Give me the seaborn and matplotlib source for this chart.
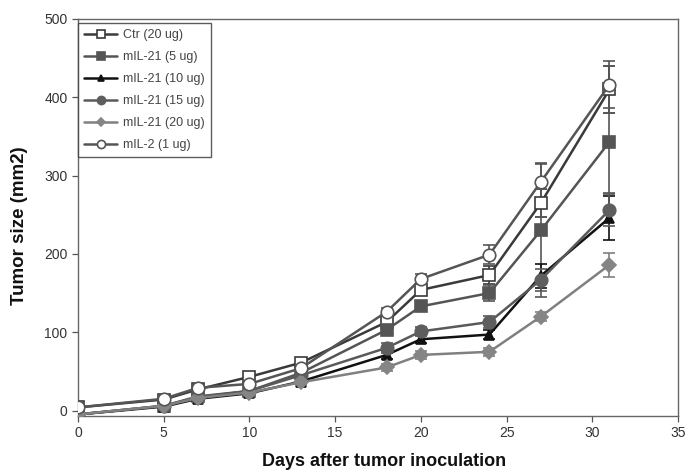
import matplotlib
matplotlib.use("Agg")
import matplotlib.pyplot as plt
import seaborn as sns
import pandas as pd
import numpy as np

days = [0, 5, 7, 10, 13, 18, 20, 24, 27, 31]
series_names = ["Ctr (20 ug)", "mIL-21 (5 ug)", "mIL-21 (10 ug)",
                "mIL-21 (15 ug)", "mIL-21 (20 ug)", "mIL-2 (1 ug)"]
ctr_20 = [4, 14, 27, 43, 61, 113, 154, 173, 265, 410]
il21_5 = [-5, 6, 18, 25, 48, 103, 133, 150, 230, 343]
il21_10 = [-5, 5, 15, 22, 37, 71, 91, 97, 172, 246]
il21_15 = [-5, 6, 17, 25, 45, 80, 101, 113, 167, 256]
il21_20 = [-5, 6, 16, 23, 36, 55, 71, 75, 120, 186]
il2_1 = [4, 15, 29, 34, 54, 126, 168, 199, 292, 416]
err_ctr = [0, 2, 3, 4, 4, 5, 6, 11, 18, 30]
err_5 = [0, 2, 3, 3, 4, 6, 6, 10, 85, 65]
err_10 = [0, 2, 2, 3, 3, 5, 5, 6, 15, 28]
err_15 = [0, 2, 2, 3, 3, 6, 6, 8, 14, 20]
err_20 = [0, 2, 2, 3, 3, 5, 5, 5, 6, 15]
err_2 = [0, 2, 3, 3, 4, 5, 6, 12, 24, 30]
x_ticks = [0, 5, 10, 15, 20, 25, 30, 35]
y_ticks = [0, 100, 200, 300, 400, 500]

values = [ctr_20, il21_5, il21_10, il21_15, il21_20, il2_1]
errors = [err_ctr, err_5, err_10, err_15, err_20, err_2]
line_colors = ["#3a3a3a", "#555555", "#111111", "#5a5a5a", "#808080", "#555555"]
face_colors = ["white", "#555555", "#111111", "#5e5e5e", "#858585", "white"]
markers = ["s", "s", "^", "o", "D", "o"]
msizes = [8, 8, 7, 9, 7, 9]

df = pd.DataFrame({
    "day": days * len(series_names),
    "size": sum(values, []),
    "err": sum(errors, []),
    "group": sum([[n] * len(days) for n in series_names], []),
})

sns.set_style("ticks")
plt.rcParams["font.family"] = ["Liberation Sans", "DejaVu Sans"]

fig = plt.figure(figsize=(6.85, 4.7), dpi=100)
ax = fig.add_axes([78 / 685, 1 - 416 / 470, 600 / 685, 397 / 470])

for i, name in enumerate(series_names):
    sub = df[df["group"] == name]
    ax.errorbar(sub["day"], sub["size"], yerr=sub["err"], fmt="none",
                ecolor=line_colors[i], elinewidth=1.2, capsize=4, capthick=1.2,
                zorder=2)
for i, name in enumerate(series_names):
    sub = df[df["group"] == name]
    sns.lineplot(data=sub, x="day", y="size", ax=ax, color=line_colors[i],
                 marker=markers[i], markersize=msizes[i],
                 markerfacecolor=face_colors[i],
                 markeredgecolor=line_colors[i] if face_colors[i] == "white" else face_colors[i],
                 markeredgewidth=1.2, linewidth=1.8, label=name, zorder=3)

ax.set_xlim(0, 35)
ax.set_ylim(-7, 500)
ax.set_xticks(x_ticks)
ax.set_yticks(y_ticks)
ax.tick_params(axis="both", labelsize=10, labelcolor="#333333", length=4,
               color="#555555", width=0.9)
for sp in ax.spines.values():
    sp.set_color("#666666")
    sp.set_linewidth(1.0)

ax.set_xlabel("Days after tumor inoculation", fontsize=13, fontweight="bold",
              color="#111111")
ax.set_ylabel("Tumor size (mm2)", fontsize=13.5, fontweight="bold",
              color="#111111")
ax.xaxis.set_label_coords(0.51, -0.093)
ax.yaxis.set_label_coords(-0.083, 0.48)

leg = ax.legend(loc="upper left", bbox_to_anchor=(0.0, 0.99), borderaxespad=0.0,
                fontsize=9, markerscale=0.65,
                frameon=True, fancybox=False, handlelength=2.6,
                labelspacing=0.8, borderpad=0.5, handletextpad=0.5,
                labelcolor="#444444")
leg.get_frame().set_edgecolor("#333333")
leg.get_frame().set_linewidth(1.0)

fig.savefig("out.png", dpi=100)
